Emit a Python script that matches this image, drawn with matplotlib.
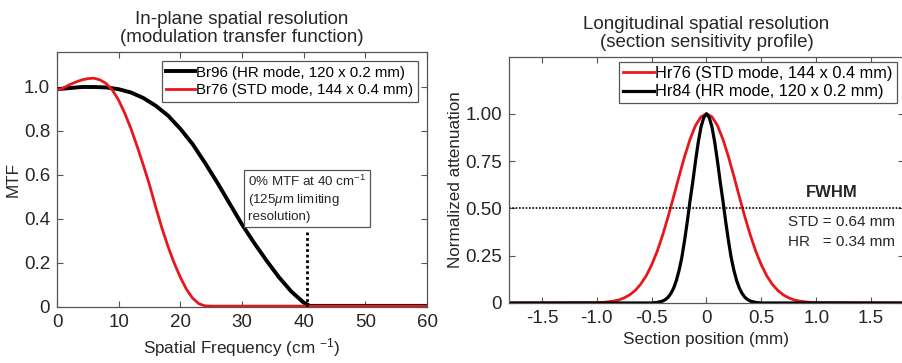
#!/usr/bin/env python3
"""Spatial resolution figure: in-plane MTF and longitudinal section sensitivity profile."""
import matplotlib
matplotlib.use("Agg")
import matplotlib.pyplot as plt

plt.rcParams["font.family"] = ["Liberation Sans", "DejaVu Sans"]
plt.rcParams["mathtext.fontset"] = "custom"
plt.rcParams["mathtext.rm"] = "Liberation Sans"
plt.rcParams["mathtext.it"] = "Liberation Sans:italic"

TXT = "#262626"
SPINE = "#555555"

# --- in-plane MTF (spatial frequency in cm^-1) ---
mtf_freq = [0, 2, 4, 6, 8, 10, 12, 14, 16, 18, 20, 22, 24, 26, 28, 30,
            32, 34, 36, 38, 40, 41, 60]
mtf_br96 = [0.99, 0.995, 1.0, 1.0, 0.998, 0.99, 0.975, 0.95, 0.915, 0.87,
            0.81, 0.74, 0.655, 0.565, 0.47, 0.375, 0.29, 0.21, 0.135,
            0.07, 0.02, 0.005, 0.005]

mtf_freq_std = [0, 1, 2, 3, 4, 5, 6, 7, 8, 9, 10, 11, 12, 13, 14, 15, 16,
                17, 18, 19, 20, 21, 22, 23, 24, 25, 60]
mtf_br76 = [0.985, 0.995, 1.01, 1.022, 1.032, 1.038, 1.04, 1.032, 1.015,
            0.985, 0.94, 0.88, 0.81, 0.73, 0.645, 0.555, 0.455, 0.36,
            0.275, 0.2, 0.135, 0.08, 0.04, 0.015, 0.005, 0.004, 0.004]

# --- section sensitivity profiles (position in mm) ---
ssp_pos_std = [-1.8, -1.0, -0.95, -0.9, -0.85, -0.8, -0.75, -0.7, -0.65,
               -0.6, -0.55, -0.5, -0.45, -0.4, -0.35, -0.3, -0.25, -0.2,
               -0.15, -0.1, -0.05, 0.0, 0.05, 0.1, 0.15, 0.2, 0.25, 0.3,
               0.35, 0.4, 0.45, 0.5, 0.55, 0.6, 0.65, 0.7, 0.75, 0.8, 0.85,
               0.9, 0.95, 1.0, 1.8]
ssp_hr76 = [0.0, 0.002, 0.003, 0.006, 0.01, 0.016, 0.027, 0.043, 0.066,
            0.099, 0.143, 0.201, 0.272, 0.358, 0.455, 0.561, 0.669, 0.773,
            0.865, 0.938, 0.984, 1.0, 0.984, 0.938, 0.865, 0.773, 0.669,
            0.561, 0.455, 0.358, 0.272, 0.201, 0.143, 0.099, 0.066, 0.043,
            0.027, 0.016, 0.01, 0.006, 0.003, 0.002, 0.0]

ssp_pos_hr = [-1.8, -0.5, -0.45, -0.4, -0.375, -0.35, -0.325, -0.3, -0.275,
              -0.25, -0.225, -0.2, -0.175, -0.15, -0.125, -0.1, -0.075,
              -0.05, -0.025, 0.0, 0.025, 0.05, 0.075, 0.1, 0.125, 0.15,
              0.175, 0.2, 0.225, 0.25, 0.275, 0.3, 0.325, 0.35, 0.375, 0.4,
              0.45, 0.5, 1.8]
ssp_hr84 = [0.0, 0.0, 0.003, 0.01, 0.018, 0.03, 0.05, 0.078, 0.118,
            0.172, 0.24, 0.33, 0.43, 0.54, 0.64, 0.75, 0.85, 0.93, 0.98,
            1.0, 0.98, 0.93, 0.85, 0.75, 0.64, 0.54, 0.43, 0.33, 0.24,
            0.172, 0.118, 0.078, 0.05, 0.03, 0.018, 0.01, 0.003, 0.0, 0.0]

fig = plt.figure(figsize=(9.02, 3.63), dpi=100)
ax1 = fig.add_axes([0.0632, 0.1543, 0.4102, 0.7024])
ax2 = fig.add_axes([0.5643, 0.1653, 0.4379, 0.6777])


def style_axes(ax):
    ax.tick_params(direction="in", length=4, width=0.8, top=True, right=True,
                   labelsize=13.5, colors=SPINE, labelcolor=TXT, pad=5)
    for sp in ax.spines.values():
        sp.set_color(SPINE)
        sp.set_linewidth(0.9)


# left panel
ax1.plot(mtf_freq, mtf_br96, color="black", lw=2.8,
         label="Br96 (HR mode, 120 x 0.2 mm)")
ax1.plot(mtf_freq_std, mtf_br76, color="#e8171c", lw=2.0,
         label="Br76 (STD mode, 144 x 0.4 mm)")
ax1.plot([40.5, 40.5], [0, 0.35], color="black", lw=2.0, ls=(0, (1, 1)))
ax1.text(31.0, 0.605, "0% MTF at 40 cm$^{-1}$\n(125$\\mu$m limiting\nresolution)  ",
         fontsize=9.6, color=TXT, va="top", ha="left", linespacing=1.3,
         bbox=dict(boxstyle="square,pad=0.3", fc="white", ec=SPINE, lw=0.9))
ax1.set_xlim(0, 60)
ax1.set_ylim(0, 1.159)
ax1.set_xticks([0, 10, 20, 30, 40, 50, 60])
ax1.set_yticks([0, 0.2, 0.4, 0.6, 0.8, 1.0])
ax1.set_yticklabels(["0", "0.2", "0.4", "0.6", "0.8", "1.0"])
ax1.set_xlabel("Spatial Frequency (cm $^{-1}$)", fontsize=12.3, color=TXT, labelpad=4)
ax1.set_ylabel("MTF", fontsize=12.3, color=TXT, labelpad=2)
ax1.set_title("In-plane spatial resolution\n(modulation transfer function)",
              fontsize=13.5, color=TXT, pad=7, linespacing=1.1)
style_axes(ax1)
leg1 = ax1.legend(loc="upper right", fontsize=10.8, handlelength=1.9,
                  handletextpad=0.1, borderpad=0.3, borderaxespad=0.6,
                  labelspacing=0.25, fancybox=False, framealpha=1)
leg1.get_frame().set_edgecolor(SPINE)
leg1.get_frame().set_linewidth(0.9)

# right panel
ax2.plot(ssp_pos_std, ssp_hr76, color="#e8171c", lw=2.0,
         label="Hr76 (STD mode, 144 x 0.4 mm)")
ax2.plot(ssp_pos_hr, ssp_hr84, color="black", lw=2.3,
         label="Hr84 (HR mode, 120 x 0.2 mm)")
ax2.axhline(0.5, color="black", lw=1.2, ls=(0, (1, 1)))
ax2.text(1.14, 0.545, "FWHM", fontsize=12, fontweight="bold", color=TXT,
         ha="center", va="bottom")
ax2.text(0.74, 0.43, "STD = 0.64 mm", fontsize=11, color=TXT, ha="left", va="center")
ax2.text(0.74, 0.32, "HR   = 0.34 mm", fontsize=11, color=TXT, ha="left", va="center")
ax2.set_xlim(-1.8, 1.8)
ax2.set_ylim(0, 1.3)
ax2.set_xticks([-1.5, -1.0, -0.5, 0, 0.5, 1.0, 1.5])
ax2.set_xticklabels(["-1.5", "-1.0", "-0.5", "0", "0.5", "1.0", "1.5"])
ax2.set_yticks([0, 0.25, 0.5, 0.75, 1.0])
ax2.set_yticklabels(["0", "0.25", "0.50", "0.75", "1.00"])
ax2.set_xlabel("Section position (mm)", fontsize=12.3, color=TXT, labelpad=4)
ax2.set_ylabel("Normalized attenuation", fontsize=12.3, color=TXT, labelpad=2)
ax2.set_title("Longitudinal spatial resolution\n(section sensitivity profile)",
              fontsize=13.5, color=TXT, pad=7, linespacing=1.1)
style_axes(ax2)
leg2 = ax2.legend(loc="upper right", bbox_to_anchor=(0.982, 0.98), fontsize=11.8,
                  handlelength=1.9, handletextpad=0.1, borderpad=0.25,
                  borderaxespad=0.0, labelspacing=0.2, fancybox=False,
                  framealpha=1)
leg2.get_frame().set_edgecolor(SPINE)
leg2.get_frame().set_linewidth(0.9)

fig.savefig("out.png", dpi=100, facecolor="white")
